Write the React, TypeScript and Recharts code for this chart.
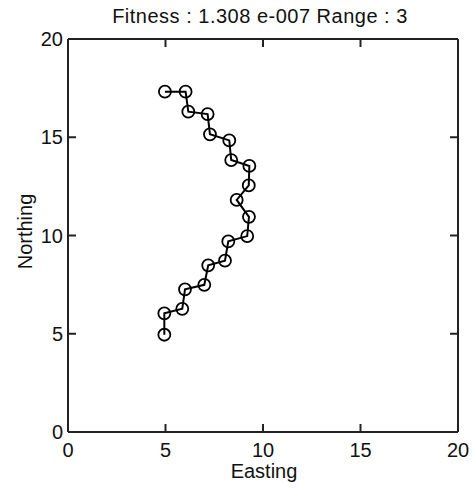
import React from "react";
import { ScatterChart, Scatter, XAxis, YAxis } from "recharts";

const titleText = "Fitness : 1.308 e-007 Range : 3";
const xLabel = "Easting";
const yLabel = "Northing";
const xTicks = [0, 5, 10, 15, 20];
const yTicks = [0, 5, 10, 15, 20];
const eastings = [4.97, 6.03, 6.17, 7.16, 7.28, 8.27, 8.37, 9.3, 9.27, 8.65, 9.28, 9.19, 8.22, 8.05, 7.19, 6.99, 6.0, 5.86, 4.94, 4.94];
const northings = [17.32, 17.32, 16.3, 16.18, 15.15, 14.84, 13.84, 13.54, 12.55, 11.81, 10.95, 9.97, 9.7, 8.72, 8.48, 7.49, 7.26, 6.27, 6.04, 4.95];

const data = eastings.map((e, i) => ({ x: e, y: northings[i] }));

const FONT = "'Liberation Sans', Arial, Helvetica, sans-serif";
const AX = "#222";
const TICK = 8;

const BottomTick = (p: any) => (
  <g>
    <line x1={p.x} y1={p.y} x2={p.x} y2={p.y - TICK} stroke={AX} strokeWidth={2} />
    <text x={p.x} y={p.y + 25} textAnchor="middle" fontSize={20} fontFamily={FONT} fill="#111">
      {p.payload.value}
    </text>
  </g>
);
const TopTick = (p: any) => (
  <line x1={p.x} y1={p.y} x2={p.x} y2={p.y + TICK} stroke={AX} strokeWidth={2} />
);
const LeftTick = (p: any) => (
  <g>
    <line x1={p.x} y1={p.y} x2={p.x + TICK} y2={p.y} stroke={AX} strokeWidth={2} />
    <text x={p.x - 5} y={p.y + 7} textAnchor="end" fontSize={20} fontFamily={FONT} fill="#111">
      {p.payload.value}
    </text>
  </g>
);
const RightTick = (p: any) => (
  <line x1={p.x} y1={p.y} x2={p.x - TICK} y2={p.y} stroke={AX} strokeWidth={2} />
);

const Marker = (p: any) => (
  <circle cx={p.cx} cy={p.cy} r={6} fill="none" stroke="#000" strokeWidth={1.8} />
);

export default function App() {
  return (
    <div style={{ position: "absolute", left: 0, top: 0, width: 474, height: 488, fontFamily: FONT }}>
      <ScatterChart width={474} height={488} margin={{ top: 0, right: 0, bottom: 0, left: 0 }}>
        <XAxis
          xAxisId={0}
          dataKey="x"
          type="number"
          domain={[0, 20]}
          ticks={xTicks}
          orientation="bottom"
          height={56}
          tickSize={0}
          tickMargin={0}
          tickLine={false}
          tick={<BottomTick />}
          axisLine={{ stroke: AX, strokeWidth: 2 }}
          allowDataOverflow
          label={{
            content: (props: any) => {
              const vb = props.viewBox;
              return (
                <text x={vb.x + vb.width / 2 + 1} y={vb.y + 46} textAnchor="middle" fontSize={20} fontFamily={FONT} fill="#111">
                  {xLabel}
                </text>
              );
            },
          }}
        />
        <XAxis
          xAxisId="top"
          dataKey="x"
          type="number"
          domain={[0, 20]}
          ticks={xTicks}
          orientation="top"
          height={39}
          tickSize={0}
          tickMargin={0}
          tickLine={false}
          tick={<TopTick />}
          axisLine={{ stroke: AX, strokeWidth: 2 }}
          allowDataOverflow
          label={{
            content: () => (
              <text x={260} y={23} textAnchor="middle" fontSize={20} letterSpacing={0.5} fontFamily={FONT} fill="#111">
                {titleText}
              </text>
            ),
          }}
        />
        <YAxis
          yAxisId={0}
          dataKey="y"
          type="number"
          domain={[0, 20]}
          ticks={yTicks}
          orientation="left"
          width={68}
          tickSize={0}
          tickMargin={0}
          tickLine={false}
          tick={<LeftTick />}
          axisLine={{ stroke: AX, strokeWidth: 2 }}
          allowDataOverflow
          label={{
            content: () => {
              const cx = 31.5;
              const cy = 231.5;
              return (
                <text x={cx} y={cy} transform={`rotate(-90, ${cx}, ${cy})`} textAnchor="middle" fontSize={20} fontFamily={FONT} fill="#111">
                  {yLabel}
                </text>
              );
            },
          }}
        />
        <YAxis
          yAxisId="right"
          dataKey="y"
          type="number"
          domain={[0, 20]}
          ticks={yTicks}
          orientation="right"
          width={16}
          tickSize={0}
          tickMargin={0}
          tickLine={false}
          tick={<RightTick />}
          axisLine={{ stroke: AX, strokeWidth: 2 }}
          allowDataOverflow
        />
        <Scatter
          data={data}
          xAxisId={0}
          yAxisId={0}
          line={{ stroke: "#000", strokeWidth: 2 }}
          lineType="joint"
          shape={<Marker />}
          isAnimationActive={false}
        />
      </ScatterChart>
    </div>
  );
}
